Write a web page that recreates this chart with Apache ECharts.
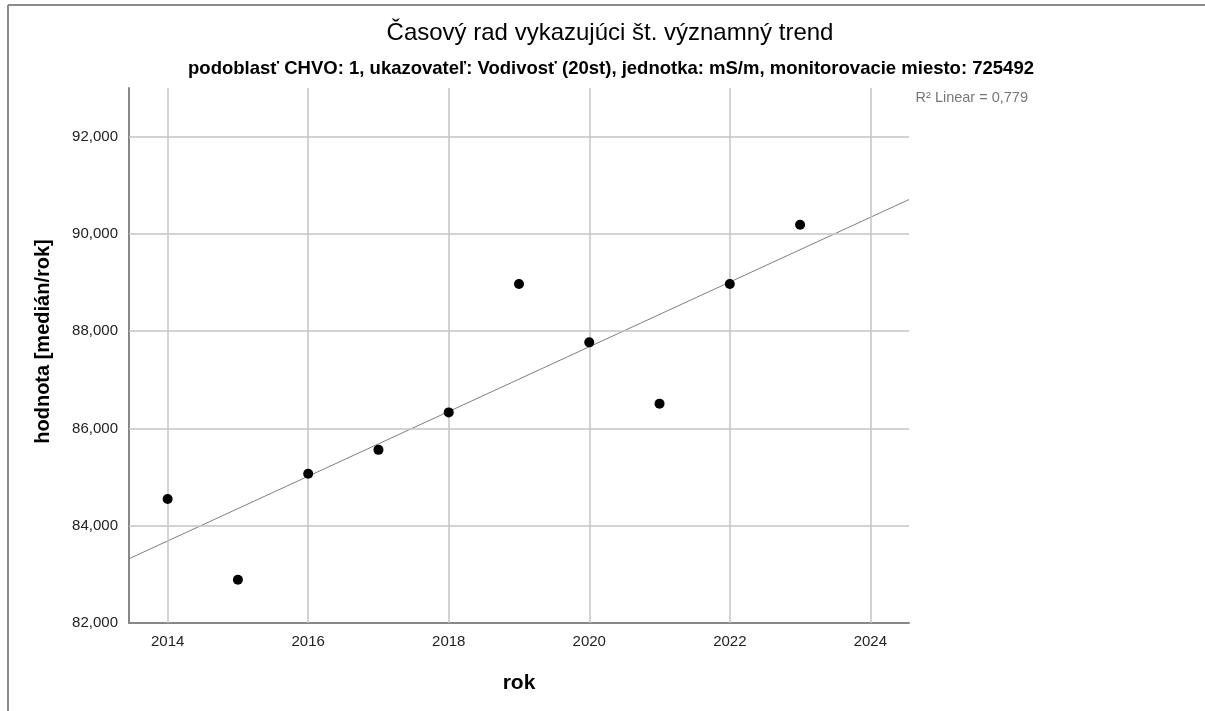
<!DOCTYPE html>
<html>
<head>
<meta charset="utf-8">
<script src="https://cdn.jsdelivr.net/npm/echarts@6/dist/echarts.min.js"></script>
<style>
  html, body { margin: 0; padding: 0; background: #fff; }
  #chart { width: 1205px; height: 711px; }
</style>
</head>
<body>
<div id="chart"></div>
<script>
// ---- data ----
const years = [2014, 2015, 2016, 2017, 2018, 2019, 2020, 2021, 2022, 2023];
const values = [84550, 82890, 85070, 85560, 86330, 88970, 87770, 86510, 88970, 90190];
const xTickValues = [2014, 2016, 2018, 2020, 2022, 2024];
const yTickValues = [82000, 84000, 86000, 88000, 90000, 92000];
const xMin = 2013.45, xMax = 2024.55;
const yMin = 82000, yMax = 93000;
const titleText = 'Časový rad vykazujúci št. významný trend';
const subtitleText = 'podoblasť CHVO: 1, ukazovateľ: Vodivosť (20st), jednotka: mS/m, monitorovacie miesto: 725492';
const xName = 'rok';
const yName = 'hodnota [medián/rok]';

// ---- linear fit ----
const n = years.length;
const mx = years.reduce((a, b) => a + b, 0) / n;
const my = values.reduce((a, b) => a + b, 0) / n;
let sxy = 0, sxx = 0, syy = 0;
for (let i = 0; i < n; i++) {
  sxy += (years[i] - mx) * (values[i] - my);
  sxx += (years[i] - mx) ** 2;
  syy += (values[i] - my) ** 2;
}
const slope = sxy / sxx;
const icpt = my - slope * mx;
const r2 = (sxy * sxy) / (sxx * syy);
const fitLine = [[xMin, icpt + slope * xMin], [xMax, icpt + slope * xMax]];

const FONT = '"Liberation Sans", Arial, sans-serif';
const GRID_COLOR = '#c4c4c4';
const chart = echarts.init(document.getElementById('chart'), null, { renderer: 'canvas' });

chart.setOption({
  animation: false,
  backgroundColor: '#ffffff',
  textStyle: { fontFamily: FONT },
  title: [
    { text: titleText, left: 605, top: 16, textAlign: 'center',
      textStyle: { fontFamily: FONT, fontSize: 24, fontWeight: 'normal', color: '#000' } },
    { text: subtitleText, left: 606, top: 54, textAlign: 'center',
      textStyle: { fontFamily: FONT, fontSize: 18.5, fontWeight: 'bold', color: '#000' } }
  ],
  graphic: [
    { type: 'line', shape: { x1: 8, y1: 5, x2: 1205, y2: 5 }, style: { stroke: '#8a8a8a', lineWidth: 2 } },
    { type: 'line', shape: { x1: 8, y1: 5, x2: 8, y2: 711 }, style: { stroke: '#8a8a8a', lineWidth: 2 } },
    { type: 'text', right: 1205 - 1028, top: 90,
      style: { text: 'R² Linear = ' + r2.toFixed(3).replace('.', ','), fill: '#777', font: '14.5px ' + FONT } }
  ],
  grid: { left: 129, right: 296, top: 88, bottom: 88, containLabel: false },
  xAxis: {
    type: 'value', min: xMin, max: xMax,
    name: xName, nameLocation: 'middle', nameGap: 50,
    nameTextStyle: { fontFamily: FONT, fontSize: 21, fontWeight: 'bold', color: '#000' },
    axisLine: { show: true, onZero: false, lineStyle: { color: '#888', width: 2 } },
    axisTick: { show: false, customValues: xTickValues },
    axisLabel: { customValues: xTickValues, formatter: v => String(v), margin: 11,
      fontFamily: FONT, fontSize: 15, color: '#222' },
    splitLine: { show: false }
  },
  yAxis: {
    type: 'value', min: yMin, max: yMax,
    name: yName, nameLocation: 'middle', nameGap: 76, nameRotate: 90,
    nameTextStyle: { fontFamily: FONT, fontSize: 20, fontWeight: 'bold', color: '#000', padding: [0, 0, 0, 28] },
    axisLine: { show: true, onZero: false, lineStyle: { color: '#888', width: 2 } },
    axisTick: { show: false, customValues: yTickValues },
    axisLabel: { customValues: yTickValues, formatter: v => v.toLocaleString('en-US'), margin: 11,
      fontFamily: FONT, fontSize: 15, color: '#222' },
    splitLine: { show: false }
  },
  series: [
    {
      type: 'line', data: [], silent: true, z: 1,
      markLine: {
        silent: true, symbol: 'none', animation: false,
        label: { show: false },
        lineStyle: { color: GRID_COLOR, width: 1.5, type: 'solid' },
        data: xTickValues.map(v => ({ xAxis: v })).concat(yTickValues.slice(1).map(v => ({ yAxis: v })))
      }
    },
    {
      type: 'line', data: fitLine, showSymbol: false, symbol: 'none', silent: true, z: 3,
      lineStyle: { color: '#7f7f7f', width: 1 }
    },
    {
      type: 'scatter', data: years.map((y, i) => [y, values[i]]), z: 5,
      symbol: 'circle', symbolSize: 10, itemStyle: { color: '#000', opacity: 1 }
    }
  ]
});
</script>
</body>
</html>
